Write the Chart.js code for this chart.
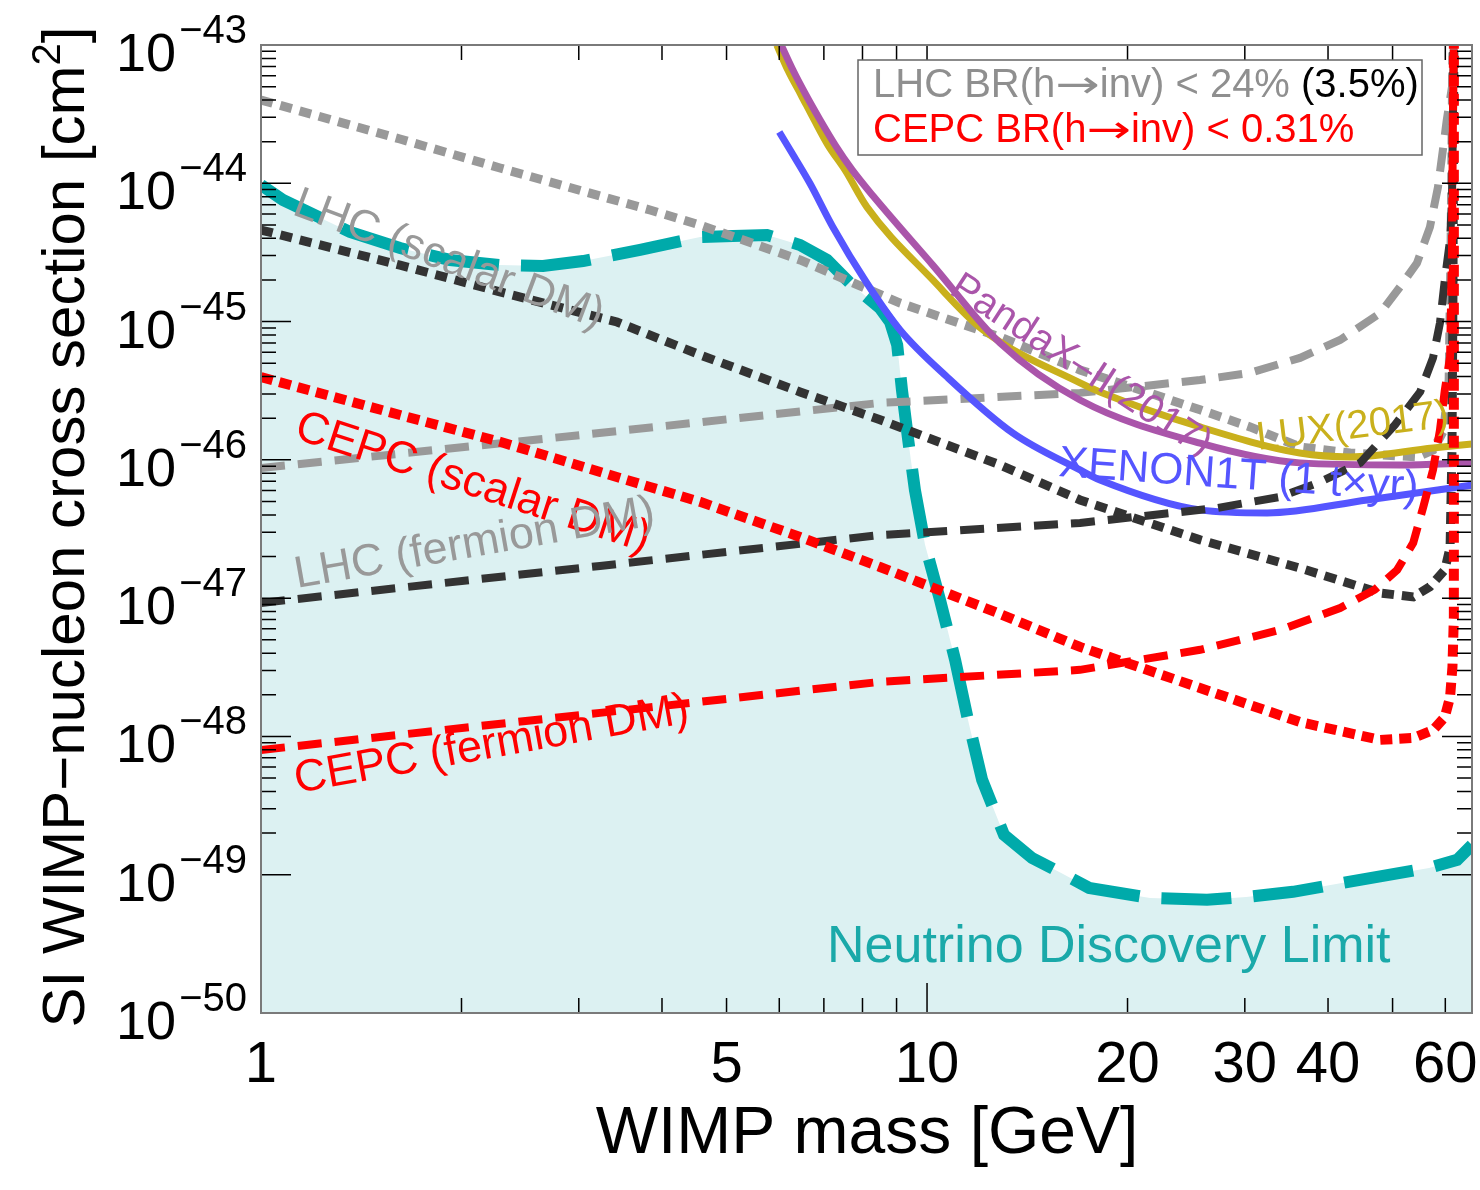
<!DOCTYPE html>
<html><head><meta charset="utf-8">
<script src="https://cdn.jsdelivr.net/npm/chart.js@4.4.1/dist/chart.umd.min.js"></script>
<style>html,body{margin:0;padding:0;background:#fff;overflow:hidden;}#wrap{width:1480px;height:1190px;position:relative;}</style>
</head><body><div id="wrap"><canvas id="c"></canvas></div>
<script>
// ---------- DATA (WIMP mass in GeV, SI cross section in cm^2) ----------
const lhcScalarMass  = [1, 1.617, 2.285, 3.838, 4.563, 6.447, 9.11, 12.87, 16.97, 25.7, 30.55, 36.3, 43.2, 54.4, 57.5, 59.7, 60.8, 61.2, 61.6];
const lhcScalarSigma = [4.0e-44, 2.09e-44, 1.29e-44, 6.41e-45, 4.99e-45, 2.79e-45, 1.36e-45, 7.74e-46, 4.47e-46, 2.30e-46, 1.73e-46, 1.24e-46, 1.12e-46, 1.05e-46, 1.18e-46, 1.64e-46, 3.78e-46, 3.30e-45, 1e-43];

const lhcFermionMass  = [1, 3.01, 8.5, 16.97, 25.7, 30.5, 36.3, 41.7, 47.9, 51.3, 54.4, 56.9, 58.5, 59.5, 60.3, 61.4, 61.8];
const lhcFermionSigma = [8.73e-47, 1.51e-46, 2.58e-46, 3.05e-46, 3.78e-46, 4.25e-46, 5.46e-46, 7.36e-46, 1.15e-45, 1.78e-45, 2.65e-45, 4.83e-45, 9.40e-45, 1.74e-44, 2.87e-44, 4.97e-44, 1e-43];

const lhc35ScalarMass  = [1, 1.617, 2.285, 3.424, 4.563, 6.447, 8.5, 12.87, 16.97, 25.7, 36.3, 47.9, 53.7, 56.9, 59.9, 61.0, 61.4, 61.6, 61.8];
const lhc35ScalarSigma = [4.59e-45, 2.56e-45, 1.64e-45, 9.93e-46, 5.74e-46, 3.10e-46, 1.95e-46, 9.19e-47, 5.13e-47, 2.64e-47, 1.65e-47, 1.09e-47, 1.02e-47, 1.21e-47, 1.60e-47, 2.34e-47, 1.18e-46, 1.43e-45, 1e-43];

const lhc35FermionMass  = [1, 3.228, 8.5, 16.97, 23.3, 27.3, 33.9, 38.6, 44.7, 50.4, 55.0, 57.5, 58.9, 59.9, 61.0, 61.4, 61.6, 61.8];
const lhc35FermionSigma = [9.23e-48, 1.71e-47, 2.86e-47, 3.50e-47, 4.13e-47, 4.49e-47, 5.40e-47, 6.81e-47, 9.51e-47, 1.79e-46, 3.10e-46, 5.46e-46, 9.77e-46, 2.0e-45, 3.89e-45, 7.57e-45, 2.87e-44, 1e-43];

const cepcScalarMass  = [1, 1.617, 2.285, 3.838, 4.563, 6.447, 8.5, 12.87, 16.97, 25.7, 36.3, 47.9, 53.7, 57.5, 59.9, 61.0, 61.5, 61.8, 61.8];
const cepcScalarSigma = [3.97e-46, 2.11e-46, 1.35e-46, 6.37e-47, 4.97e-47, 2.77e-47, 1.68e-47, 7.69e-48, 4.44e-48, 2.24e-48, 1.27e-48, 9.44e-49, 9.75e-49, 1.11e-48, 1.38e-48, 1.93e-48, 3.18e-48, 7.31e-48, 1e-43];

const cepcFermionMass  = [1, 3.228, 8.5, 16.97, 25.7, 33.9, 41.7, 47.0, 50.8, 53.7, 55.6, 57.5, 58.9, 59.9, 61.0, 61.4, 61.6, 61.8];
const cepcFermionSigma = [7.98e-49, 1.48e-48, 2.48e-48, 3.03e-48, 4.23e-48, 5.89e-48, 8.49e-48, 1.15e-47, 1.60e-47, 2.51e-47, 4.56e-47, 8.45e-47, 1.64e-46, 3.20e-46, 5.55e-46, 3.30e-45, 2.87e-44, 1e-43];

const pandaxMass  = [6.04, 6.29, 6.58, 6.91, 7.28, 7.72, 8.30, 10.2, 12.87, 16.97, 25.7, 36.3, 51.3, 65.8];
const pandaxSigma = [1e-43, 6.59e-44, 4.35e-44, 2.87e-44, 1.89e-44, 1.25e-44, 8.09e-45, 2.56e-45, 7.0e-46, 2.71e-46, 1.32e-46, 9.51e-47, 9.19e-47, 9.51e-47];

const luxMass  = [5.95, 6.18, 6.47, 6.77, 7.10, 7.53, 8.12, 10.2, 12.14, 16.97, 18.18, 25.7, 36.3, 43.2, 57.5, 65.8];
const luxSigma = [1e-43, 6.59e-44, 4.35e-44, 2.87e-44, 1.89e-44, 1.25e-44, 6.75e-45, 2.0e-45, 8.69e-46, 3.60e-46, 3.10e-46, 1.73e-46, 1.12e-46, 1.05e-46, 1.22e-46, 1.30e-46];

const xenonMass  = [6.0, 6.23, 6.67, 7.22, 8.12, 9.11, 10.72, 13.46, 16.97, 18.18, 25.7, 32.4, 45.8, 66.0];
const xenonSigma = [2.35e-44, 1.74e-44, 1.0e-44, 4.83e-45, 1.90e-45, 8.69e-46, 3.97e-46, 1.56e-46, 8.45e-47, 7.16e-47, 4.35e-47, 4.13e-47, 5.13e-47, 6.58e-47];

const neutrinoMass  = [1.0, 1.079, 1.36, 1.617, 1.922, 2.285, 2.651, 3.044, 3.708, 4.563, 5.113, 5.751, 6.447, 7.077, 7.662, 8.5, 8.80, 9.02, 9.17, 9.37, 9.59, 9.931, 10.46, 11.02, 11.52, 12.10, 13.05, 14.38, 15.90, 17.51, 21.62, 26.33, 30.13, 35.44, 42.14, 56.73, 62.5, 65.8];
const neutrinoSigma = [9.72e-45, 7.57e-45, 4.45e-45, 3.40e-45, 2.79e-45, 2.56e-45, 2.52e-45, 2.74e-45, 3.30e-45, 4.09e-45, 4.16e-45, 4.23e-45, 3.58e-45, 2.79e-45, 1.90e-45, 1.25e-45, 9.93e-46, 6.78e-46, 3.20e-46, 1.39e-46, 6.05e-47, 2.43e-47, 9.70e-48, 3.57e-48, 1.32e-48, 4.84e-49, 1.94e-49, 1.32e-49, 1.03e-49, 8.03e-50, 6.79e-50, 6.58e-50, 6.90e-50, 7.52e-50, 8.73e-50, 1.12e-49, 1.28e-49, 1.64e-49];

// Tick values / labels
const xMajorTicks = [1, 10];
const xMinorTicks = [2, 3, 4, 5, 6, 7, 8, 9, 20, 30, 40, 50, 60];
const xTickLabels = [1, 5, 10, 20, 30, 40, 60];
const yDecadeExponents = [-43, -44, -45, -46, -47, -48, -49, -50];
const yMinorMultipliers = [2, 3, 4, 5, 6, 7, 8, 9];
const xRange = [1, 65.8];
const yRange = [1e-50, 1e-43];

// ---------- DRAWING ----------
const FONT = '"Liberation Sans", Arial, Helvetica, sans-serif';
const ARROWFONT = '"DejaVu Sans", "Liberation Sans", sans-serif';
function pts(m, s) { return m.map((v, i) => ({ x: v, y: s[i] })); }
function line(label, m, s, color, width, dash, extra) {
  return Object.assign({ label, data: pts(m, s), borderColor: color, borderWidth: width, borderDash: dash,
    borderCapStyle: 'butt', pointRadius: 0, showLine: true, fill: false, tension: 0, clip: 0 }, extra || {});
}

// draw a run of [text, color, font, xScale] pieces left to right
function runs(ctx, pieces, x0, y0) {
  let cx = x0;
  pieces.forEach(([t, col, f, sx]) => {
    sx = sx || 1;
    ctx.font = f; ctx.fillStyle = col;
    ctx.save(); ctx.translate(cx, y0); ctx.scale(sx, 1); ctx.fillText(t, 0, 0); ctx.restore();
    cx += ctx.measureText(t).width * sx;
  });
}

const overlay = {
  id: 'overlay',
  afterDatasetsDraw(chart) {
    const { ctx, chartArea: a, scales: { x, y } } = chart;
    ctx.save();
    // ticks
    ctx.strokeStyle = '#000'; ctx.lineWidth = 1.5;
    ctx.beginPath();
    const xt = (v, L) => { const p = x.getPixelForValue(v); ctx.moveTo(p, a.bottom); ctx.lineTo(p, a.bottom - L); ctx.moveTo(p, a.top); ctx.lineTo(p, a.top + L); };
    xMajorTicks.forEach(v => xt(v, 30));
    xMinorTicks.forEach(v => xt(v, 15));
    const yt = (v, L) => { const p = y.getPixelForValue(v); ctx.moveTo(a.left, p); ctx.lineTo(a.left + L, p); ctx.moveTo(a.right, p); ctx.lineTo(a.right - L, p); };
    yDecadeExponents.forEach(e => {
      const dec = Number('1e' + e);
      yt(dec, 30);
      if (e > -50) yMinorMultipliers.forEach(k => yt(k * dec, 15));
    });
    ctx.stroke();
    // frame
    ctx.strokeStyle = '#7a7a7a'; ctx.lineWidth = 2;
    ctx.strokeRect(a.left, a.top, a.right - a.left, a.bottom - a.top);

    // rotated annotations
    const rot = (text, px, py, deg, color, size) => {
      ctx.save(); ctx.translate(px, py); ctx.rotate(deg * Math.PI / 180);
      ctx.font = size + 'px ' + FONT; ctx.fillStyle = color; ctx.textAlign = 'left'; ctx.textBaseline = 'alphabetic';
      ctx.fillText(text, 0, 0); ctx.restore();
    };
    rot('LHC (scalar DM)', 291, 214, 20.5, '#999999', 44);
    rot('CEPC (scalar DM)', 293, 438, 18, '#ff0000', 45);
    rot('LHC (fermion DM)', 297, 588, -10, '#999999', 45);
    rot('CEPC (fermion DM)', 297, 793, -10.2, '#ff0000', 45);
    rot('PandaX\u2013II(2017)', 948, 293, 33, '#aa55aa', 40);
    rot('LUX(2017)', 1258, 450, -7, '#c9b01c', 40);
    rot('XENON1T (1 t\u00d7yr)', 1058, 476, 4, '#5555ff', 44);
    rot('Neutrino Discovery Limit', 827, 962, 0, '#1aa9a9', 52);

    // legend box
    ctx.fillStyle = '#fff'; ctx.fillRect(858, 60, 564, 95);
    ctx.strokeStyle = '#666'; ctx.lineWidth = 1.5; ctx.strokeRect(858, 60, 564, 95);
    ctx.textAlign = 'left'; ctx.textBaseline = 'alphabetic';
    const F40 = '40px ' + FONT, A40 = '38px ' + ARROWFONT;
    runs(ctx, [['LHC BR(h', '#8f8f8f', F40], ['\u2192', '#8f8f8f', A40, 1.4], ['inv) < 24%', '#8f8f8f', F40], [' (3.5%)', '#000', F40]], 873, 97);
    runs(ctx, [['CEPC BR(h', '#ff0000', F40], ['\u2192', '#ff0000', A40, 1.4], ['inv) < 0.31%', '#ff0000', F40]], 873, 142);

    // y tick labels 10^-n
    ctx.fillStyle = '#000';
    yDecadeExponents.forEach(e => {
      const p = y.getPixelForValue(Number('1e' + e));
      const sup = '\u2212' + Math.abs(e);
      ctx.font = '40px ' + FONT; ctx.textAlign = 'right';
      ctx.fillText(sup, 247, p - 2);
      const w = ctx.measureText(sup).width;
      ctx.font = '54px ' + FONT;
      ctx.fillText('10', 247 - w - 3, p + 26);
    });
    // x tick labels
    ctx.font = '58px ' + FONT; ctx.textAlign = 'center';
    xTickLabels.forEach(v => ctx.fillText(String(v), x.getPixelForValue(v), 1082));
    // x title
    ctx.font = '66px ' + FONT; ctx.textAlign = 'center';
    ctx.fillText('WIMP mass [GeV]', 867, 1153);
    // y title (rotated)
    ctx.save(); ctx.translate(84, 527); ctx.rotate(-Math.PI / 2);
    ctx.font = '60px ' + FONT; ctx.textAlign = 'left';
    const ya = 'SI WIMP\u2212nucleon cross section [cm', yb = '2', yc = ']';
    const wa = ctx.measureText(ya).width, wc = ctx.measureText(yc).width;
    ctx.font = '40px ' + FONT; const wb = ctx.measureText(yb).width;
    const tot = wa + wb + wc; let cx = -tot / 2;
    ctx.font = '60px ' + FONT; ctx.fillText(ya, cx, 0); cx += wa;
    ctx.font = '40px ' + FONT; ctx.fillText(yb, cx, -24); cx += wb;
    ctx.font = '60px ' + FONT; ctx.fillText(yc, cx, 0);
    ctx.restore();
    ctx.restore();
  },
  afterDraw(chart) {
    // keep the strip above the plot frame clean
    const { ctx, chartArea: a } = chart;
    ctx.save(); ctx.fillStyle = '#fff'; ctx.fillRect(252, 0, 1228, a.top - 3); ctx.restore();
  }
};

new Chart(document.getElementById('c'), {
  type: 'scatter',
  data: {
    datasets: [
      line('CEPC scalar', cepcScalarMass, cepcScalarSigma, '#ff0000', 10, [12, 7]),
      line('CEPC fermion', cepcFermionMass, cepcFermionSigma, '#ff0000', 8, [24, 13]),
      line('LHC 3.5% scalar', lhc35ScalarMass, lhc35ScalarSigma, '#333333', 9, [12, 8]),
      line('LHC 3.5% fermion', lhc35FermionMass, lhc35FermionSigma, '#333333', 8, [24, 13]),
      line('XENON1T', xenonMass, xenonSigma, '#5555ff', 7, [], { cubicInterpolationMode: 'monotone' }),
      line('PandaX-II', pandaxMass, pandaxSigma, '#aa55aa', 7, [], { cubicInterpolationMode: 'monotone' }),
      line('LUX', luxMass, luxSigma, '#c9b01c', 7, [], { cubicInterpolationMode: 'monotone' }),
      line('LHC scalar', lhcScalarMass, lhcScalarSigma, '#999999', 9, [12, 8]),
      line('LHC fermion', lhcFermionMass, lhcFermionSigma, '#999999', 8, [24, 13]),
      line('Neutrino floor', neutrinoMass, neutrinoSigma, '#00aaaa', 12, [70, 22], { fill: 'start', backgroundColor: '#dcf1f2' })
    ]
  },
  options: {
    responsive: true, maintainAspectRatio: false, animation: false, devicePixelRatio: 1,
    layout: { padding: { left: 261, top: 45, right: 8, bottom: 177 } },
    plugins: { legend: { display: false }, tooltip: { enabled: false } },
    scales: {
      x: { type: 'logarithmic', min: xRange[0], max: xRange[1], display: false },
      y: { type: 'logarithmic', min: yRange[0], max: yRange[1], display: false }
    }
  },
  plugins: [overlay]
});
</script></body></html>
